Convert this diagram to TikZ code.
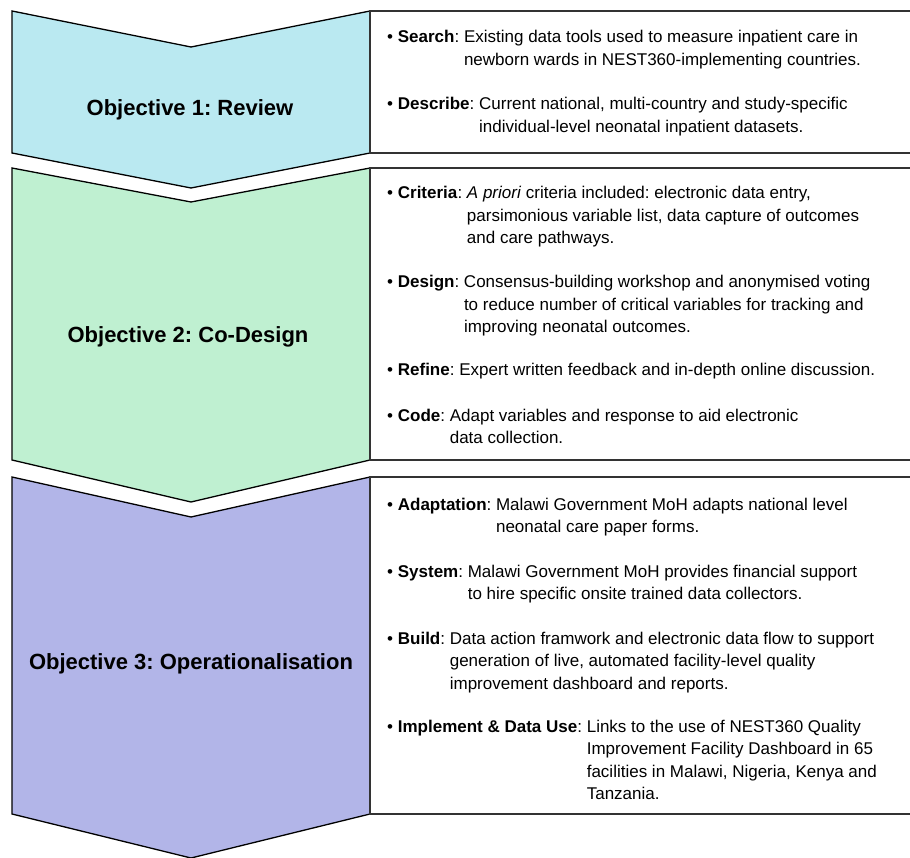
\documentclass[tikz,border=0pt]{standalone}
\usepackage{fontspec}
\setmainfont{Liberation Sans}
\frenchspacing
\definecolor{cblue}{HTML}{BAE9F1}
\definecolor{cgreen}{HTML}{BFF0D1}
\definecolor{cpurple}{HTML}{B2B5E8}
\definecolor{boxline}{HTML}{333333}
\newcommand{\hang}[1]{\parbox[t]{600pt}{\raggedright #1}}
\tikzset{
  chev/.style={draw=black, line width=1.3pt, line join=miter},
  boxedge/.style={draw=boxline, line width=1.4pt},
  item/.style={anchor=base west, inner sep=0pt, font=\fontsize{17}{22.5}\selectfont},
  title/.style={anchor=base, inner sep=0pt, font=\bfseries\fontsize{22}{26}\selectfont}
}
\begin{document}
\begin{tikzpicture}[x=1pt,y=-1pt]
\useasboundingbox (0,0) rectangle (910,858);
% chevrons
\draw[chev, fill=cblue] (12,11) -- (191,47) -- (370,11) -- (370,153) -- (191,188) -- (12,153) -- cycle;
\draw[chev, fill=cgreen] (12,168) -- (191,202) -- (370,168) -- (370,460) -- (191,502) -- (12,460) -- cycle;
\draw[chev, fill=cpurple] (12,477) -- (191,517) -- (370,477) -- (370,814) -- (191,858) -- (12,814) -- cycle;
% boxes (open to the right)
\draw[boxedge] (912,11) -- (370,11) -- (370,153) -- (912,153);
\draw[boxedge] (912,168) -- (370,168) -- (370,460) -- (912,460);
\draw[boxedge] (912,477) -- (370,477) -- (370,814) -- (912,814);
% titles
\node[title] (t1) at (190,116) {Objective 1: Review};
\node[title] (t2) at (188,343) {Objective 2: Co-Design};
\node[title] (t3) at (191,669) {Objective 3: Operationalisation};
% box 1
\node[item] (i1) at (387,43) {• \textbf{Search}: \hang{Existing data tools used to measure inpatient care in\\newborn wards in NEST360-implementing countries.}};
\node[item] (i2) at (387,110) {• \textbf{Describe}: \hang{Current national, multi-country and study-specific\\individual-level neonatal inpatient datasets.}};
% box 2
\node[item] (i3) at (387,199) {• \textbf{Criteria}: \hang{\textit{A priori} criteria included: electronic data entry,\\parsimonious variable list, data capture of outcomes\\and care pathways.}};
\node[item] (i4) at (387,288) {• \textbf{Design}: \hang{Consensus-building workshop and anonymised voting\\to reduce number of critical variables for tracking and\\improving neonatal outcomes.}};
\node[item] (i5) at (387,376) {• \textbf{Refine}: Expert written feedback and in-depth online discussion.};
\node[item] (i6) at (387,421) {• \textbf{Code}: \hang{Adapt variables and response to aid electronic\\data collection.}};
% box 3
\node[item] (i7) at (387,510) {• \textbf{Adaptation}: \hang{Malawi Government MoH adapts national level\\neonatal care paper forms.}};
\node[item] (i8) at (387,577) {• \textbf{System}: \hang{Malawi Government MoH provides financial support\\to hire specific onsite trained data collectors.}};
\node[item] (i9) at (387,644) {• \textbf{Build}: \hang{Data action framwork and electronic data flow to support\\generation of live, automated facility-level quality\\improvement dashboard and reports.}};
\node[item] (i10) at (387,732) {• \textbf{Implement \& Data Use}: \hang{Links to the use of NEST360 Quality\\Improvement Facility Dashboard in 65\\facilities in Malawi, Nigeria, Kenya and\\Tanzania.}};
\end{tikzpicture}
\end{document}
